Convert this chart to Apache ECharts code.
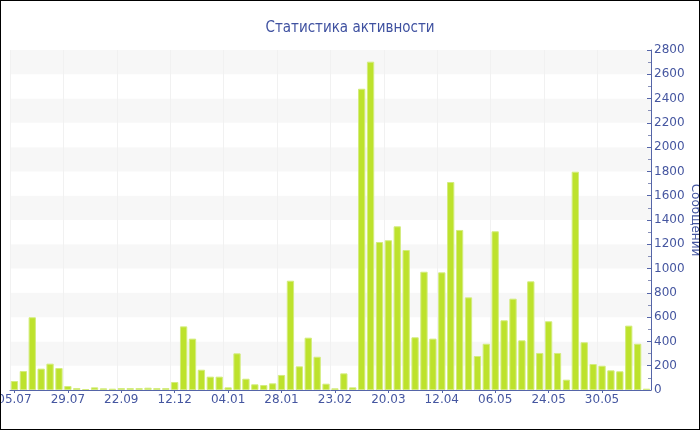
<!DOCTYPE html>
<html>
<head>
<meta charset="utf-8">
<script src="https://cdn.jsdelivr.net/npm/echarts@6/dist/echarts.min.js"></script>
<style>
html,body{margin:0;padding:0;background:#fff;}
#frame{position:absolute;left:0;top:0;width:700px;height:430px;box-sizing:border-box;border:1px solid #000;}
#chart{position:absolute;left:0;top:0;width:698px;height:428px;}
</style>
</head>
<body>
<div id="frame"><div id="chart"></div></div>
<script>
// Tick labels shown on the x axis (every 6th category)
const tickLabels = ['05.07','29.07','22.09','12.12','04.01','28.01','23.02','20.03','12.04','06.05','24.05','30.05'];
const labelEvery = 6;
// Messages per period (72 bars)
const messages = [
  74,156,599,176,217,181,33,16,8,22,14,11,16,16,16,19,16,16,
  66,524,423,167,110,110,22,302,93,47,41,55,124,900,195,431,274,52,
  14,137,22,2481,2704,1219,1233,1348,1153,434,974,423,969,1713,1318,763,280,381,
  1307,574,752,409,895,305,566,305,85,1798,393,214,200,162,154,530,381,11
];
const yTitle = 'Сообщений';
const chartTitle = 'Статистика активности';

const categories = messages.map((_, i) => (i % labelEvery === 0 ? (tickLabels[i / labelEvery] || '') : ''));

const chart = echarts.init(document.getElementById('chart'));
const txt = '#4556a0';
chart.setOption({
  animation: false,
  title: {
    text: chartTitle, left: 'center', top: 15,
    textStyle: { color: '#3f51a0', fontSize: 15, fontWeight: 'normal', fontFamily: "'DejaVu Sans Condensed', 'DejaVu Sans'" }
  },
  grid: { left: 9, right: 48, top: 49, bottom: 39, containLabel: false, outerBoundsMode: 'none' },
  xAxis: {
    type: 'category', data: categories, boundaryGap: true,
    axisLine: { lineStyle: { color: '#5565a8', width: 1 } },
    axisTick: { show: true, interval: labelEvery - 1, alignWithLabel: true, length: 3, lineStyle: { color: '#5565a8' } },
    axisLabel: { interval: labelEvery - 1, color: txt, fontSize: 12, fontFamily: 'DejaVu Sans', margin: 4, hideOverlap: false },
    splitLine: { show: true, interval: labelEvery - 1, lineStyle: { color: '#f1f1f1' } }
  },
  yAxis: {
    type: 'value', position: 'right', min: 0, max: 2800, interval: 200,
    name: yTitle, nameLocation: 'middle', nameGap: 38, nameRotate: -90, nameMoveOverlap: false,
    nameTextStyle: { color: txt, fontSize: 12, fontFamily: 'DejaVu Sans' },
    axisLine: { show: true, lineStyle: { color: '#5565a8' } },
    axisTick: { show: true, inside: true, length: 4, lineStyle: { color: '#5565a8' } },
    minorTick: { show: true, splitNumber: 2, length: 3, lineStyle: { color: '#8890b8' } },
    axisLabel: { color: txt, fontSize: 12, fontFamily: 'DejaVu Sans', margin: 3, formatter: v => String(v) },
    splitLine: { show: false },
    splitArea: { show: true, areaStyle: { color: ['#ffffff', '#f7f7f7'] } }
  },
  series: [{
    type: 'bar', data: messages, barCategoryGap: '18%',
    itemStyle: { color: '#bde22c', borderColor: '#d3ec7e', borderWidth: 1 }
  }]
});
</script>
</body>
</html>
